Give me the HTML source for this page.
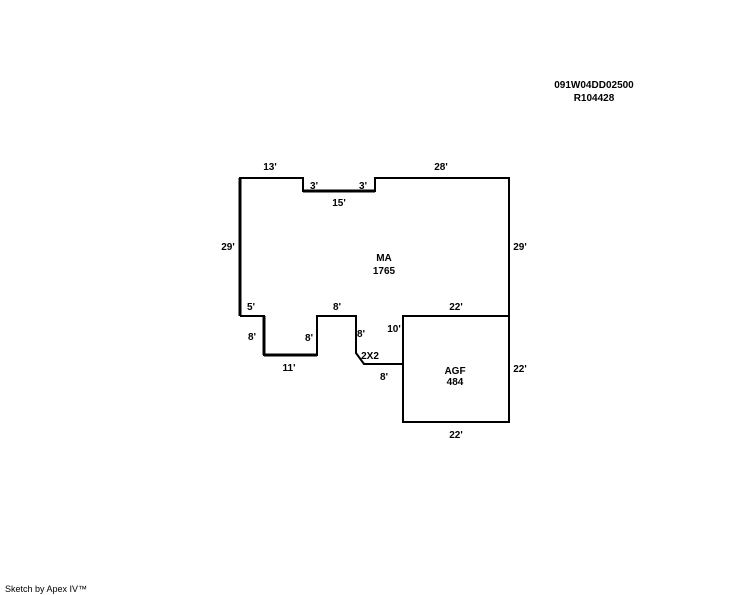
<!DOCTYPE html>
<html><head><style>
html,body{margin:0;padding:0;background:#fff;}
svg{display:block;}
text{font-family:"Liberation Sans",Arial,sans-serif;font-weight:bold;font-size:10px;fill:#000;}
</style></head><body>
<svg width="744" height="595" viewBox="0 0 744 595">
<text x="594" y="88" text-anchor="middle">091W04DD02500</text>
<text x="594" y="101" text-anchor="middle">R104428</text>
<polyline points="240,316 240,178 303,178 303,191 375,191 375,178 509,178 509,316" fill="none" stroke="#000" stroke-width="2"/>
<polyline points="240,316 264,316 264,355 317,355 317,316 356,316 356,353 364,364 403,364" fill="none" stroke="#000" stroke-width="2"/>
<line x1="240" y1="178" x2="240" y2="316" stroke="#000" stroke-width="3"/>
<line x1="303" y1="191" x2="375" y2="191" stroke="#000" stroke-width="3"/>
<line x1="264" y1="316" x2="264" y2="355" stroke="#000" stroke-width="3"/>
<line x1="264" y1="355" x2="317" y2="355" stroke="#000" stroke-width="3"/>
<rect x="403" y="316" width="106" height="106" fill="none" stroke="#000" stroke-width="2"/>
<text x="270" y="170" text-anchor="middle">13'</text>
<text x="441" y="170" text-anchor="middle">28'</text>
<text x="314" y="189" text-anchor="middle">3'</text>
<text x="363" y="189" text-anchor="middle">3'</text>
<text x="339" y="206" text-anchor="middle">15'</text>
<text x="228" y="250" text-anchor="middle">29'</text>
<text x="520" y="250" text-anchor="middle">29'</text>
<text x="384" y="261" text-anchor="middle">MA</text>
<text x="384" y="274" text-anchor="middle">1765</text>
<text x="251" y="310" text-anchor="middle">5'</text>
<text x="337" y="310" text-anchor="middle">8'</text>
<text x="456" y="310" text-anchor="middle">22'</text>
<text x="252" y="340" text-anchor="middle">8'</text>
<text x="309" y="341" text-anchor="middle">8'</text>
<text x="361" y="337" text-anchor="middle">8'</text>
<text x="394" y="332" text-anchor="middle">10'</text>
<text x="370" y="359" text-anchor="middle">2X2</text>
<text x="289" y="371" text-anchor="middle">11'</text>
<text x="384" y="380" text-anchor="middle">8'</text>
<text x="455" y="374" text-anchor="middle">AGF</text>
<text x="455" y="385" text-anchor="middle">484</text>
<text x="520" y="372" text-anchor="middle">22'</text>
<text x="456" y="438" text-anchor="middle">22'</text>
<text x="5" y="592" style="font-weight:normal;font-size:9px">Sketch by Apex IV™</text>
</svg>
</body></html>
